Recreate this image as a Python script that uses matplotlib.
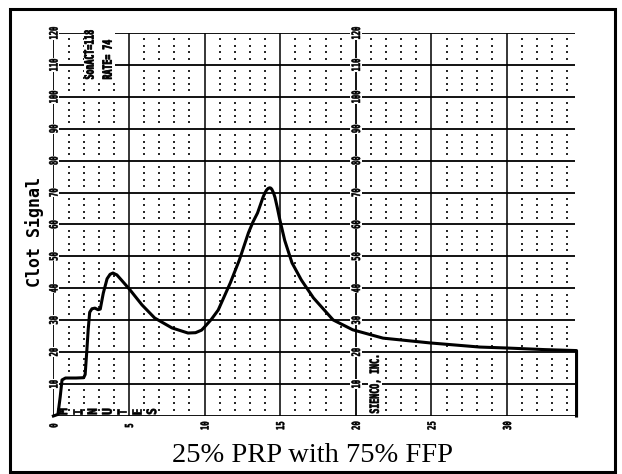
import numpy as np
import matplotlib
matplotlib.use('Agg')
import matplotlib.pyplot as plt
from matplotlib.textpath import TextPath
from matplotlib.patches import PathPatch, Rectangle
from matplotlib.font_manager import FontProperties
from matplotlib.transforms import Affine2D, ScaledTranslation

# clot signal trace
minutes = [0.0, 0.3, 0.45, 0.57, 0.8, 1.5, 2.0, 2.1, 2.2, 2.3, 2.4, 2.55, 2.75,
           2.95, 3.1, 3.3, 3.55, 3.75, 3.94, 4.2, 4.5, 5.07, 5.86, 6.7, 7.84,
           8.9, 9.4, 9.8, 10.0, 10.45, 10.9, 11.7, 12.3, 12.9, 13.2, 13.5, 13.7,
           13.86, 14.0, 14.1, 14.2, 14.3, 14.38, 14.45, 14.55, 14.65, 14.8,
           14.98, 15.3, 15.78, 16.4, 17.2, 18.5, 19.8, 21.8, 24.9, 28.2, 30.0,
           32.5, 34.6, 34.6]
signal = [0.0, 0.5, 6.0, 11.3, 11.9, 11.9, 12.0, 13.0, 19.7, 27.0, 32.5, 33.6,
          33.8, 33.3, 33.5, 38.5, 43.0, 44.4, 44.8, 44.2, 42.6, 39.5, 34.8,
          30.7, 27.6, 26.0, 26.1, 26.9, 27.9, 30.3, 33.2, 41.7, 48.9, 57.4,
          60.8, 63.6, 66.3, 68.5, 70.0, 70.8, 71.3, 71.5, 71.4, 71.0, 70.0,
          68.6, 65.5, 61.4, 55.0, 48.0, 42.6, 37.0, 30.1, 27.0, 24.4, 22.9,
          21.6, 21.3, 20.8, 20.5, 0.0]

x_ticks = [0, 5, 10, 15, 20, 25, 30]
y_ticks = [10, 20, 30, 40, 50, 60, 70, 80, 90, 100, 110, 120]
x_end = 34.63

mono = FontProperties(family='DejaVu Sans Mono', weight='bold')


def squeeze_text(ax, x, y, s, em, stretch, align='center', white=False, lw=0.4):
    # narrow printer-style text, rotated to read bottom to top
    tp = TextPath((0, 0), s, size=em, prop=mono)
    ext = tp.get_extents()
    x0 = ext.x0 if align == 'left' else (ext.x0 + ext.x1) / 2
    y0 = (ext.y0 + ext.y1) / 2
    tr = (Affine2D().translate(-x0, -y0).scale(stretch, 1).rotate_deg(90)
          + ScaledTranslation(x, y, ax.transData))
    if white:
        pad = 1.5
        ax.add_patch(Rectangle((ext.x0 - pad, ext.y0 - pad), ext.width + 2 * pad,
                               ext.height + 2 * pad, transform=tr, fc='white',
                               ec='none', zorder=4, clip_on=False))
    ax.add_patch(PathPatch(tp, transform=tr, fc='black', ec='black', lw=lw,
                           zorder=5, clip_on=False))


fig = plt.figure(figsize=(6.22, 4.74), dpi=100)
ax = fig.add_axes([53.4 / 622, 58 / 474, (577 - 53.4) / 622, 383 / 474])
ax.set_xlim(0, x_end)
ax.set_ylim(0, 120)
ax.axis('off')

fig.add_artist(Rectangle((10 / 622, 2 / 474), 605 / 622, 463 / 474,
                         transform=fig.transFigure, fill=False, lw=2.2, ec='black'))

# dotted minor grid
dx = [m for m in range(1, 35) if m % 5]
dy = [v for v in range(2, 120, 2) if v % 10]
gx, gy = np.meshgrid(dx, dy)
ax.scatter(gx.ravel(), gy.ravel(), s=1.6, marker='s', c='#2a2a2a', lw=0, zorder=1)

ax.hlines(y_ticks, 0, 34.5, color='black', lw=1.3, zorder=2)
ax.hlines(0, 0, x_end, color='black', lw=1.3, zorder=2)
ax.vlines([5, 10, 15, 25, 30], 0, 120, color='black', lw=1.1, zorder=2)
ax.vlines([0, 20], 0, 120, color='black', lw=1.3, zorder=2)

ax.plot(minutes, signal, color='black', lw=2.2, zorder=3, clip_on=False,
        solid_joinstyle='round')

for xa in [0, 20]:
    for v in y_ticks:
        squeeze_text(ax, xa, v, str(v), 11.5, 0.62, white=True)

for t in x_ticks:
    squeeze_text(ax, t, -3.0, str(t), 11, 0.65)

for i, ch in enumerate('MINUTES'):
    squeeze_text(ax, 0.6 + i * 0.98, 1.4, ch, 13, 0.85, lw=0.5)

# instrument readout
ax.add_patch(Rectangle((2.0, 104.7), 2.07, 18.1, fc='white', ec='none',
                       zorder=4, clip_on=False))
squeeze_text(ax, 2.35, 105.6, 'SonACT=118', 12.5, 0.66, align='left', lw=0.6)
squeeze_text(ax, 3.55, 105.6, 'RATE= 74', 12.5, 0.66, align='left', lw=0.6)
squeeze_text(ax, 21.27, 0.9, 'SIENCO, INC.', 12.5, 0.66, align='left',
             white=True, lw=0.5)

ax.text(-1.28, 57.7, 'Clot Signal', rotation=90, family='DejaVu Sans Mono',
        weight='bold', fontsize=12, ha='center', va='center')

fig.text(312 / 622, 12 / 474, '25% PRP with 75% FFP', family='Liberation Serif',
         fontsize=20.5, ha='center', va='baseline')

fig.savefig('out.png', dpi=100)
